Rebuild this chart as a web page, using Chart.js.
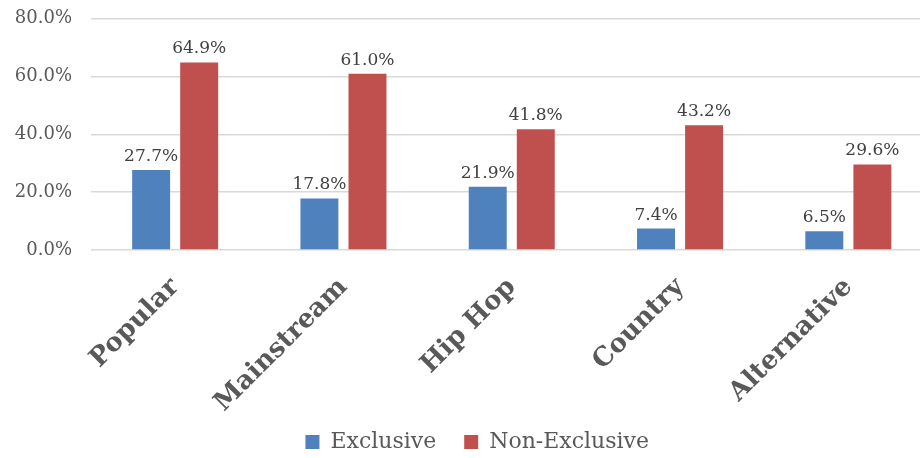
<!DOCTYPE html>
<html>
<head>
<meta charset="utf-8">
<script src="https://cdn.jsdelivr.net/npm/chart.js@4.4.1/dist/chart.umd.min.js"></script>
<style>
  body { margin: 0; background: #fff; }
  #wrap { width: 920px; height: 458px; overflow: hidden; position: relative; }
  #box { width: 955px; height: 496px; position: absolute; left: 0; top: -11px; }
</style>
</head>
<body>
<div id="wrap"><div id="box"><canvas id="chart"></canvas></div></div>
<script>
const categories = ['Popular', 'Mainstream', 'Hip Hop', 'Country', 'Alternative'];
const exclusive = [27.7, 17.8, 21.9, 7.4, 6.5];
const nonExclusive = [64.9, 61.0, 41.8, 43.2, 29.6];
const yTicks = [0, 20, 40, 60, 80];

const textColor = '#595959';
const serif = "'DejaVu Serif', Georgia, serif";

// values printed above each bar
const barLabels = {
    id: 'barLabels',
    afterDatasetsDraw(chart) {
        const ctx = chart.ctx;
        ctx.save();
        ctx.font = '17px ' + serif;
        ctx.fillStyle = '#404040';
        ctx.textAlign = 'center';
        ctx.textBaseline = 'bottom';
        chart.data.datasets.forEach((ds, i) => {
            chart.getDatasetMeta(i).data.forEach((bar, j) => {
                ctx.fillText(ds.data[j].toFixed(1) + '%', bar.x, bar.y - 5);
            });
        });
        ctx.restore();
    }
};

// nudge the legend so it sits under the rotated labels like the original
const legendNudge = {
    id: 'legendNudge',
    afterLayout(chart) {
        const lg = chart.legend;
        lg.left += 11; lg.right += 11;
        lg.top -= 22; lg.bottom -= 22;
    }
};

new Chart('chart', {
    type: 'bar',
    data: {
        labels: categories,
        datasets: [{
            label: 'Exclusive',
            data: exclusive,
            backgroundColor: '#4F81BD',
            categoryPercentage: 0.571,
            barPercentage: 0.79
        }, {
            label: 'Non-Exclusive',
            data: nonExclusive,
            backgroundColor: '#C0504D',
            categoryPercentage: 0.571,
            barPercentage: 0.79
        }]
    },
    options: {
        responsive: true,
        maintainAspectRatio: false,
        animation: false,
        layout: { padding: { left: 0, right: 22.5, top: 7, bottom: 0 } },
        plugins: {
            tooltip: { enabled: false },
            legend: {
                position: 'bottom',
                labels: {
                    color: textColor,
                    font: { family: serif, size: 22 },
                    boxWidth: 14,
                    boxHeight: 14,
                    padding: 28
                }
            }
        },
        scales: {
            x: {
                grid: { display: false },
                border: { display: false },
                ticks: {
                    color: textColor,
                    font: { family: serif, size: 26, weight: 'bold' },
                    minRotation: 45,
                    maxRotation: 45,
                    padding: 14
                },
                afterFit(scale) { scale.height = 175; }
            },
            y: {
                min: 0,
                max: 80,
                afterBuildTicks(scale) { scale.ticks = yTicks.map(v => ({ value: v })); },
                grid: { color: '#D9D9D9', lineWidth: 1.5, drawTicks: false },
                border: { display: false },
                ticks: {
                    color: textColor,
                    font: { family: serif, size: 18 },
                    padding: 19,
                    callback: v => v.toFixed(1) + '%'
                },
                afterFit(scale) { scale.width = 91; }
            }
        }
    },
    plugins: [barLabels, legendNudge]
});
</script>
</body>
</html>
